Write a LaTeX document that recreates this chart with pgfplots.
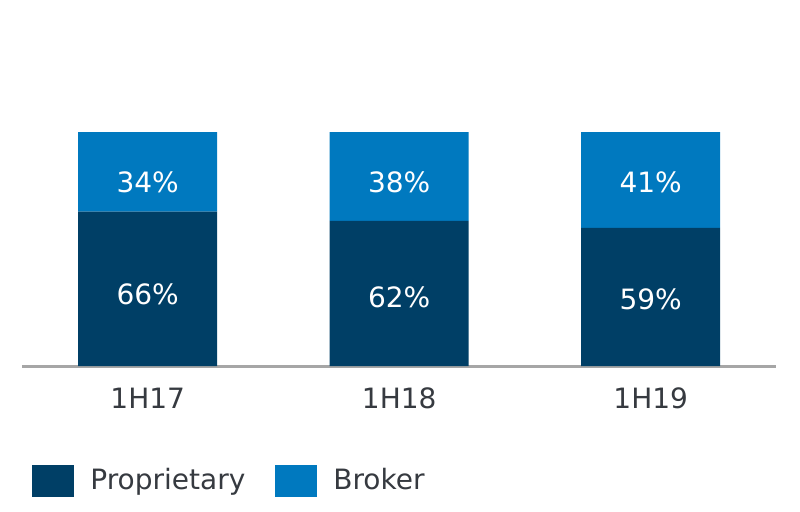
\documentclass[border=0pt]{standalone}
\usepackage{pgfplots}
\pgfplotsset{compat=1.18}
\usepackage{fontspec}
\setmainfont{DejaVu Sans}
\definecolor{cdark}{HTML}{003F66}
\definecolor{clight}{HTML}{0079BF}
\definecolor{caxis}{HTML}{A6A6A6}
\definecolor{ctext}{HTML}{363A40}
\begin{document}
\fontsize{14pt}{16pt}\selectfont
\begin{tikzpicture}
\path[use as bounding box] (0,0) rectangle (400pt,255.5pt);
\begin{axis}[
  at={(11pt,72.5pt)}, anchor=south west,
  scale only axis, width=377.25pt, height=117pt,
  xmin=-0.5, xmax=2.5, ymin=0, ymax=100,
  ybar stacked, bar width=69.5pt,
  axis y line=none,
  axis x line*=bottom,
  x axis line style={draw=caxis, line width=1.5pt, -},
  xtick={0,1,2}, xticklabels={1H17,1H18,1H19},
  major tick length=0pt,
  xticklabel style={text=ctext, font=\fontsize{14pt}{16pt}\selectfont, yshift=-6pt},
  legend columns=2,
  legend style={at={(0.01325,-0.4915)}, anchor=west, draw=none, fill=none,
    inner sep=0pt, font=\fontsize{14pt}{16pt}\selectfont, text=ctext,
    /tikz/every even column/.append style={column sep=15pt},
    nodes={inner sep=0pt, anchor=west}},
  legend image code/.code={\fill[#1] (0pt,-8pt) rectangle (21pt,8pt); \path (29pt,0pt);},
]
\addplot[fill=cdark, draw=none] coordinates {(0,66) (1,62) (2,59)};
\addlegendentry{Proprietary}
\addplot[fill=clight, draw=none] coordinates {(0,34) (1,38) (2,41)};
\addlegendentry{Broker}
\end{axis}
\begin{axis}[
  at={(11pt,72.5pt)}, anchor=south west,
  scale only axis, width=377.25pt, height=117pt,
  xmin=-0.5, xmax=2.5, ymin=0, ymax=100,
  hide axis,
]
\addplot[only marks, mark=none, nodes near coords, point meta=explicit symbolic,
  every node near coord/.style={anchor=center, text=white, font=\fontsize{14pt}{16pt}\selectfont}]
  coordinates {(0,30.5)[66\%] (1,29.5)[62\%] (2,28.5)[59\%]
               (0,78.3)[34\%] (1,78.5)[38\%] (2,78.3)[41\%]};
\end{axis}
\end{tikzpicture}
\end{document}
